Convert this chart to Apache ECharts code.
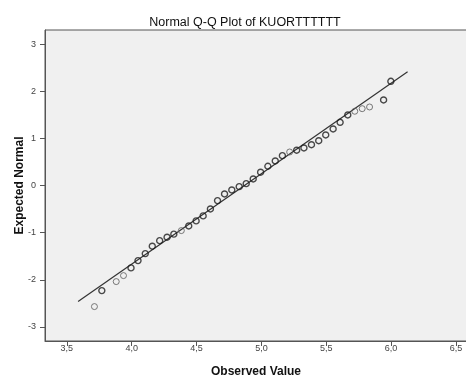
<!DOCTYPE html>
<html lang="en">
<head>
    <meta charset="UTF-8">
    <title>Normal Q-Q Plot</title>
    <script src="https://cdn.jsdelivr.net/npm/echarts@6.0.0/dist/echarts.min.js"></script>
    <style>
        html, body { margin: 0; padding: 0; background: #fff; }
        #main { width: 466px; height: 379px; }
    </style>
</head>
<body>
    <div id="main"></div>
    <script>
        const observed = [3.713, 3.770, 3.881, 3.937, 3.995, 4.049, 4.105, 4.159, 4.216, 4.273,
            4.325, 4.383, 4.440, 4.497, 4.551, 4.607, 4.662, 4.716, 4.772, 4.829,
            4.883, 4.937, 4.994, 5.050, 5.107, 5.162, 5.218, 5.272, 5.328, 5.386,
            5.442, 5.496, 5.553, 5.607, 5.666, 5.720, 5.777, 5.834, 5.942, 5.998];
        const expected = [-2.569, -2.229, -2.038, -1.911, -1.747, -1.592, -1.444, -1.287, -1.168, -1.096,
            -1.030, -0.955, -0.856, -0.749, -0.643, -0.495, -0.318, -0.176, -0.091, -0.021,
            0.042, 0.142, 0.285, 0.412, 0.524, 0.637, 0.715, 0.752, 0.800, 0.870,
            0.955, 1.076, 1.204, 1.346, 1.501, 1.580, 1.635, 1.671, 1.820, 2.217];
        // number of cases at each point (tied cases are drawn darker)
        const counts = [1, 2, 1, 1, 2, 2, 2, 2, 2, 2,
            2, 1, 2, 2, 2, 2, 2, 2, 2, 2,
            2, 2, 2, 2, 2, 2, 1, 2, 2, 2,
            2, 2, 2, 2, 2, 1, 1, 1, 2, 2];

        // reference line end points
        const lineX = [3.587, 6.127];
        const lineY = [-2.46, 2.42];

        const xTicks = [3.5, 4.0, 4.5, 5.0, 5.5, 6.0, 6.5];
        const yTicks = [-3, -2, -1, 0, 1, 2, 3];

        const points = observed.map((x, i) => ({
            value: [x, expected[i]],
            itemStyle: counts[i] > 1
                ? { color: 'rgba(0,0,0,0)', borderColor: '#1e1e1e', borderWidth: 1.4 }
                : { color: 'rgba(0,0,0,0)', borderColor: '#5a5a5a', borderWidth: 1 }
        }));

        const myChart = echarts.init(document.getElementById('main'));

        myChart.setOption({
            animation: false,
            backgroundColor: '#ffffff',
            title: {
                text: 'Normal Q-Q Plot of KUORTTTTTT',
                left: 240,
                textAlign: 'center',
                top: 11,
                textStyle: { fontFamily: 'Liberation Sans, Arial', fontSize: 12.5, fontWeight: 'normal', color: '#111' }
            },
            grid: {
                left: 45, top: 30, right: -1, bottom: 38,
                outerBoundsMode: 'none',
                show: true,
                backgroundColor: '#f0f0f0',
                borderColor: '#555',
                borderWidth: 1
            },
            xAxis: {
                type: 'value',
                min: 3.332, max: 6.585,
                name: 'Observed Value',
                nameLocation: 'middle',
                nameGap: 25,
                nameMoveOverlap: false,
                nameTextStyle: { fontFamily: 'Liberation Sans, Arial', fontSize: 12, fontWeight: 'bold', color: '#111' },
                axisLine: { onZero: false, lineStyle: { color: '#555' } },
                axisTick: { show: true, customValues: xTicks, length: 5, lineStyle: { color: '#555' } },
                axisLabel: {
                    customValues: xTicks,
                    margin: 3,
                    fontFamily: 'Liberation Sans, Arial', fontSize: 9, color: '#444',
                    formatter: v => v.toFixed(1).replace('.', ',')
                },
                splitLine: { show: false }
            },
            yAxis: {
                type: 'value',
                min: -3.3, max: 3.306,
                name: 'Expected Normal',
                nameLocation: 'middle',
                nameGap: 19,
                nameMoveOverlap: false,
                nameTextStyle: { fontFamily: 'Liberation Sans, Arial', fontSize: 12, fontWeight: 'bold', color: '#111' },
                axisLine: { show: true, onZero: false, lineStyle: { color: '#555' } },
                axisTick: { show: true, customValues: yTicks, length: 5, lineStyle: { color: '#555' } },
                axisLabel: {
                    customValues: yTicks,
                    margin: 9,
                    fontFamily: 'Liberation Sans, Arial', fontSize: 9, color: '#444'
                },
                splitLine: { show: false }
            },
            series: [
                {
                    type: 'line',
                    data: lineX.map((x, i) => [x, lineY[i]]),
                    symbol: 'none',
                    lineStyle: { color: '#333', width: 1.2 },
                    z: 1
                },
                {
                    type: 'scatter',
                    data: points,
                    symbol: 'circle',
                    symbolSize: 6,
                    z: 2
                }
            ]
        });
    </script>
</body>
</html>
